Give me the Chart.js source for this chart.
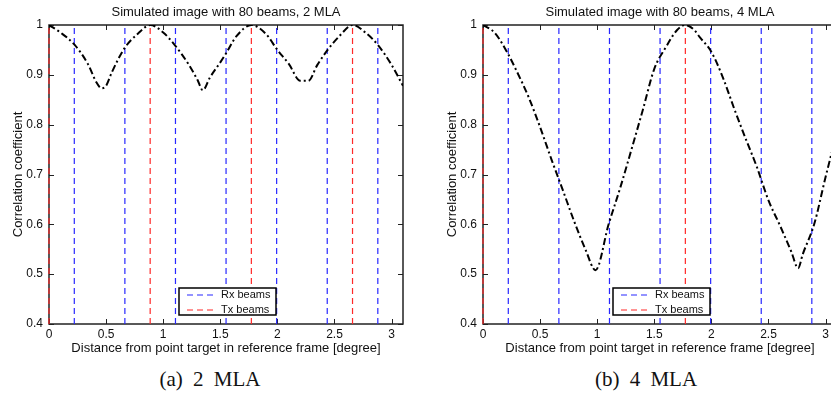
<!DOCTYPE html>
<html lang="en">
<head>
<meta charset="UTF-8">
<title>Correlation vs distance, 2 and 4 MLA</title>
<script src="https://cdn.jsdelivr.net/npm/chart.js@4.4.1/dist/chart.umd.min.js"></script>
<style>
  body { margin: 0; background: #fff; }
  .figure { position: relative; width: 831px; height: 400px; overflow: hidden; background: #fff; }
  .panel { position: absolute; top: 0; }
  .caption { position: absolute; top: 369px; width: 200px; line-height: 21px; text-align: center;
             font-family: "Liberation Serif", serif; font-size: 21px; word-spacing: 5px; color: #111; }
</style>
</head>
<body>
<div class="figure">
  <canvas id="chartA" class="panel" width="415" height="360" style="left:0"></canvas>
  <canvas id="chartB" class="panel" width="415" height="360" style="left:434px"></canvas>
  <div class="caption" style="left:110px">(a) 2 MLA</div>
  <div class="caption" style="left:546px">(b) 4 MLA</div>
</div>
<script>
// axis ranges
const xRange = [0, 3.1];
const yRange = [0.4, 1];

// beam positions [degree]
const rxBeams = [0.2215, 0.6645, 1.1075, 1.5505, 1.9935, 2.4365, 2.8795];
const txBeams2 = [0, 0.886, 1.772, 2.658];
const txBeams4 = [0, 1.772];

// correlation curve, 2 MLA
const dist2 = [0, 0.1, 0.225, 0.34, 0.415, 0.46, 0.5, 0.55, 0.66, 0.78, 0.887, 1.0, 1.1, 1.22, 1.3, 1.347,
               1.41, 1.5, 1.55, 1.64, 1.772, 1.9, 2.0, 2.1, 2.2, 2.27, 2.35, 2.44, 2.54, 2.66, 2.78, 2.88, 3.0, 3.1];
const corr2 = [1, 0.985, 0.96, 0.922, 0.885, 0.873, 0.878, 0.905, 0.953, 0.983, 1, 0.985, 0.96, 0.922, 0.89, 0.869,
               0.895, 0.925, 0.943, 0.977, 1, 0.982, 0.95, 0.922, 0.888, 0.888, 0.92, 0.95, 0.977, 1, 0.983, 0.96, 0.92, 0.878];

// correlation curve, 4 MLA
const dist4 = [0, 0.1, 0.2, 0.3, 0.4, 0.5, 0.6, 0.7, 0.8, 0.9, 0.985, 1.1, 1.2, 1.3, 1.4, 1.5, 1.6, 1.7, 1.772,
               1.85, 1.9, 2.0, 2.1, 2.2, 2.3, 2.4, 2.5, 2.6, 2.7, 2.76, 2.8, 2.9, 3.0, 3.1];
const corr4 = [1, 0.985, 0.95, 0.905, 0.855, 0.795, 0.73, 0.668, 0.605, 0.548, 0.508, 0.6, 0.672, 0.75, 0.83, 0.912, 0.955, 0.99, 1,
               0.99, 0.975, 0.946, 0.895, 0.832, 0.772, 0.714, 0.648, 0.598, 0.545, 0.512, 0.54, 0.6, 0.695, 0.785];

const sans = '"Liberation Sans", Arial, sans-serif';
const textColor = '#111';
const rxColor = 'rgb(40, 40, 255)';
const txColor = 'rgb(255, 40, 40)';
const beamDash = [6, 4];

// one dataset per beam: a vertical dashed line over the full y range
function beamDatasets(positions, label, color) {
    return positions.map((x, i) => ({
        label: label,
        inLegend: i === 0,
        legendColor: color,
        data: [{x: x, y: yRange[0]}, {x: x, y: yRange[1]}],
        borderColor: color,
        borderWidth: 1.2,
        borderDash: beamDash,
        pointRadius: 0,
        clip: false
    }));
}

function fmt(v) {
    return String(+v.toFixed(2));
}

// MATLAB look: box around the axes, inward ticks, legend inside at the bottom
const matlabAxes = {
    id: 'matlabAxes',
    beforeDatasetsDraw(chart) {
        const {ctx, chartArea: a, scales: {x, y}} = chart;
        ctx.save();
        ctx.strokeStyle = '#222';
        ctx.lineWidth = 1;
        ctx.beginPath();
        x.ticks.forEach(t => {
            const px = Math.round(x.getPixelForValue(t.value)) + 0.5;
            ctx.moveTo(px, a.bottom); ctx.lineTo(px, a.bottom - 5);
            ctx.moveTo(px, a.top); ctx.lineTo(px, a.top + 5);
        });
        y.ticks.forEach(t => {
            const py = Math.round(y.getPixelForValue(t.value)) + 0.5;
            ctx.moveTo(a.left, py); ctx.lineTo(a.left + 5, py);
            ctx.moveTo(a.right, py); ctx.lineTo(a.right - 5, py);
        });
        ctx.stroke();
        ctx.lineWidth = 1.5;
        ctx.strokeRect(a.left, a.top, a.right - a.left, a.bottom - a.top);
        ctx.restore();
    },
    afterDatasetsDraw(chart) {
        const {ctx, chartArea: a} = chart;
        const items = chart.data.datasets.filter(d => d.inLegend);
        ctx.save();
        ctx.font = '11px ' + sans;
        const textW = Math.max(...items.map(d => ctx.measureText(d.label).width));
        const w = Math.round(42 + textW + 5), h = 27;
        const left = Math.round((a.left + a.right) / 2 - w / 2) + 1;
        const top = a.bottom - 9 - h;
        ctx.fillStyle = '#fff';
        ctx.fillRect(left, top, w, h);
        ctx.strokeStyle = '#000';
        ctx.lineWidth = 1.5;
        ctx.strokeRect(left, top, w, h);
        items.forEach((d, i) => {
            const ly = Math.round(top + 7 + i * 14.5);
            ctx.strokeStyle = d.legendColor;
            ctx.lineWidth = 1.2;
            ctx.setLineDash(beamDash);
            ctx.beginPath();
            ctx.moveTo(left + 8, ly);
            ctx.lineTo(left + 38, ly);
            ctx.stroke();
            ctx.setLineDash([]);
            ctx.fillStyle = textColor;
            ctx.textBaseline = 'middle';
            ctx.fillText(d.label, left + 42, ly);
        });
        ctx.restore();
    }
};

function makeChart(id, title, dist, corr, txBeams) {
    const curve = {
        label: 'Correlation',
        data: dist.map((x, i) => ({x: x, y: corr[i]})),
        borderColor: '#000',
        borderWidth: 2,
        borderDash: [7, 3, 2, 3],
        pointRadius: 0,
        cubicInterpolationMode: 'monotone'
    };
    return new Chart(document.getElementById(id), {
        type: 'line',
        data: {
            datasets: [curve]
                .concat(beamDatasets(rxBeams, 'Rx beams', rxColor))
                .concat(beamDatasets(txBeams, 'Tx beams', txColor))
        },
        options: {
            responsive: false,
            animation: false,
            devicePixelRatio: 1,
            layout: { padding: { left: 0, right: 12, top: 0, bottom: 0 } },
            plugins: {
                legend: { display: false },
                tooltip: { enabled: false },
                title: {
                    display: true,
                    text: title,
                    fullSize: false,
                    color: textColor,
                    font: { family: sans, size: 13, weight: 'normal' },
                    padding: { top: 4.4, bottom: 5 }
                }
            },
            scales: {
                x: {
                    type: 'linear',
                    min: xRange[0],
                    max: xRange[1],
                    afterFit: s => { s.height = 36; },
                    grid: { display: false, drawTicks: false },
                    border: { display: false },
                    ticks: { stepSize: 0.5, includeBounds: false, padding: 3, maxRotation: 0, callback: fmt,
                             color: textColor, font: { family: sans, size: 12 } },
                    title: { display: true, text: 'Distance from point target in reference frame [degree]',
                             color: textColor, font: { family: sans, size: 13 }, padding: { top: 0, bottom: 4.2 } }
                },
                y: {
                    min: yRange[0],
                    max: yRange[1],
                    afterFit: s => { s.width = 49; },
                    grid: { display: false, drawTicks: false },
                    border: { display: false },
                    ticks: { stepSize: 0.1, padding: 6, callback: fmt,
                             color: textColor, font: { family: sans, size: 12 } },
                    title: { display: true, text: 'Correlation coefficient',
                             color: textColor, font: { family: sans, size: 13 }, padding: { top: 10.2, bottom: 0 } }
                }
            }
        },
        plugins: [matlabAxes]
    });
}

makeChart('chartA', 'Simulated image with 80 beams, 2 MLA', dist2, corr2, txBeams2);
makeChart('chartB', 'Simulated image with 80 beams, 4 MLA', dist4, corr4, txBeams4);
</script>
</body>
</html>
